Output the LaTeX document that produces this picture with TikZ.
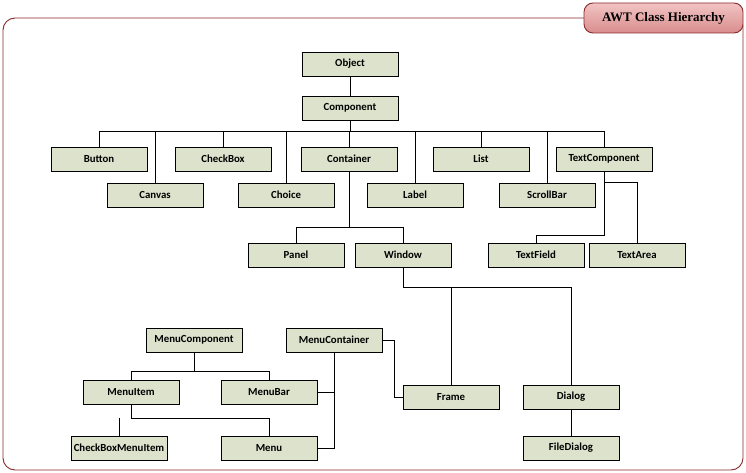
\documentclass[tikz,border=0pt]{standalone}
\usepackage{fontspec}
\setmainfont{Carlito}
\newfontfamily\titlefont{Liberation Serif}
\definecolor{boxfill}{HTML}{DDE2CC}
\definecolor{frame}{HTML}{8B2A2A}
\definecolor{pinkA}{HTML}{F2C4C4}
\definecolor{pinkB}{HTML}{D98C8C}
\begin{document}
\begin{tikzpicture}[x=1pt,y=-1pt,
  cls/.style={draw=black,line width=0.9pt,fill=boxfill,minimum width=96pt,minimum height=24pt,inner sep=0pt,font=\bfseries\fontsize{10.8}{12}\selectfont},
  ln/.style={draw=black,line width=0.9pt}]
\useasboundingbox (0,0) rectangle (746,473);
\draw[frame,line width=0.9pt,rounded corners=12pt] (590,18) -- (3,18) -- (3,470) -- (743,470) -- (743,25);
\node[draw=frame,line width=0.9pt,rounded corners=9pt,top color=pinkA,bottom color=pinkB,minimum width=159pt,minimum height=30pt,inner sep=0pt,font=\titlefont\bfseries\fontsize{13}{15}\selectfont] (title) at (663.5,18) {AWT Class Hierarchy};
\node[cls] (obj) at (350,64) {Object};
\node[cls] (comp) at (350,108) {Component};
\node[cls] (button) at (99,159) {Button};
\node[cls] (checkbox) at (223,159) {CheckBox};
\node[cls] (container) at (349,159) {Container};
\node[cls] (list) at (481,159) {List};
\node[cls] (textcomp) at (604,159) {TextComponent};
\node[cls] (canvas) at (155,195) {Canvas};
\node[cls] (choice) at (286,195) {Choice};
\node[cls] (label) at (415,195) {Label};
\node[cls] (scroll) at (547,195) {ScrollBar};
\node[cls] (panel) at (296,255) {Panel};
\node[cls] (window) at (403,255) {Window};
\node[cls] (tfield) at (536,255) {TextField};
\node[cls] (tarea) at (637,255) {TextArea};
\node[cls] (menucomp) at (194,340) {MenuComponent};
\node[cls] (menucont) at (334,340) {MenuContainer};
\node[cls] (menuitem) at (131,392) {MenuItem};
\node[cls] (menubar) at (269,392) {MenuBar};
\node[cls] (frm) at (451,397) {Frame};
\node[cls] (dialog) at (571,397) {Dialog};
\node[cls] (cbmi) at (119,448) {CheckBoxMenuItem};
\node[cls] (menu) at (269,448) {Menu};
\node[cls] (fdialog) at (571,448) {FileDialog};
\coordinate (bus) at (0,131);
\draw[ln] (obj) -- (comp);
\draw[ln] (comp.south) -- (comp.south |- bus);
\draw[ln] (button.north |- bus) -- (textcomp.north |- bus);
\foreach \n in {button,checkbox,container,list,textcomp}
  \draw[ln] (\n.north |- bus) -- (\n.north);
\foreach \n in {canvas,choice,label,scroll}
  \draw[ln] (\n.north |- bus) -- (\n.north);
\coordinate (cb) at (0,227);
\draw[ln] (container.south) -- (container.south |- cb);
\draw[ln] (panel.north) |- (window.north |- cb) -- (window.north);
\coordinate (tb) at (0,235);
\coordinate (ta) at (0,182);
\draw[ln] (textcomp.south) -- (textcomp.south |- tb) -| (tfield.north);
\draw[ln] (textcomp.south |- ta) -| (tarea.north);
\coordinate (wb) at (0,287);
\draw[ln] (window.south) |- (dialog.north |- wb) -- (dialog.north);
\draw[ln] (frm.north |- wb) -- (frm.north);
\draw[ln] (dialog) -- (fdialog);
\coordinate (mb) at (0,371);
\draw[ln] (menucomp.south) -- (menucomp.south |- mb);
\draw[ln] (menuitem.north) |- (menubar.north |- mb) -- (menubar.north);
\coordinate (mib) at (0,418);
\draw[ln] (menuitem.south) -- (menuitem.south |- mib);
\draw[ln] (cbmi.north |- mib) -- (cbmi.north);
\draw[ln] (menuitem.south |- mib) -| (menu.north);
\draw[ln] (menucont.south) |- (menu.east);
\draw[ln] (menubar.east) -- (menubar.east -| menucont.south);
\draw[ln] (menucont.east) -- ++(12,0) |- (frm.west);
\end{tikzpicture}
\end{document}
